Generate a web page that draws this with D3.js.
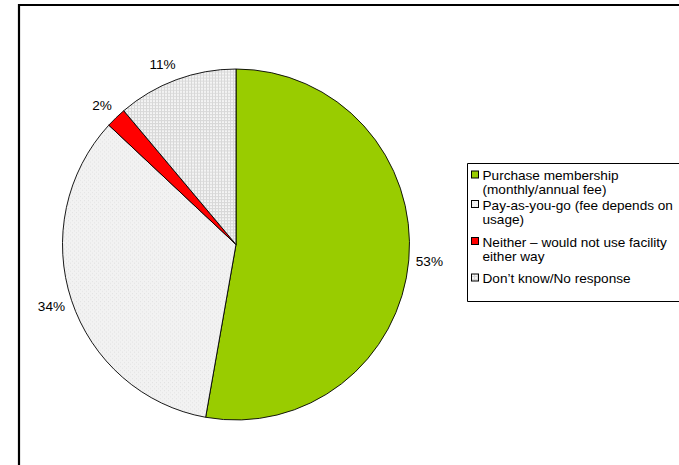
<!DOCTYPE html>
<html>
<head>
<meta charset="utf-8">
<script src="https://cdn.jsdelivr.net/npm/d3@7"></script>
<style>
  html, body { margin: 0; padding: 0; background: #fff; overflow: hidden; }
  svg { display: block; overflow: hidden; }
  text { font-family: "Liberation Sans", Arial, sans-serif; fill: #000; }
</style>
</head>
<body>
<svg id="chart" width="679" height="465"></svg>
<script>
// ---- data ----
const categories = [
  "Purchase membership (monthly/annual fee)",
  "Pay-as-you-go (fee depends on usage)",
  "Neither \u2013 would not use facility either way",
  "Don\u2019t know/No response"
];
const legendLines = [
  ["Purchase membership", "(monthly/annual fee)"],
  ["Pay-as-you-go (fee depends on", "usage)"],
  ["Neither \u2013 would not use facility", "either way"],
  ["Don\u2019t know/No response"]
];
const values = [52.8, 34.1, 1.9, 11.2];
const fills = ["#99CC00", "url(#dots)", "#FF0000", "url(#grid)"];

// ---- layout ----
const W = 679, H = 465;
const svg = d3.select("#chart");
const cx = 236, cy = 244.5, rx = 173.5, ry = 175.5;
const fs = 13.6;

const defs = svg.append("defs");
const dots = defs.append("pattern").attr("id", "dots").attr("patternUnits", "userSpaceOnUse")
  .attr("width", 4).attr("height", 4);
dots.append("rect").attr("width", 4).attr("height", 4).attr("fill", "#f2f2f2");
dots.append("rect").attr("x", 0).attr("y", 0).attr("width", 1).attr("height", 1).attr("fill", "#e2e2e2");
dots.append("rect").attr("x", 2).attr("y", 2).attr("width", 1).attr("height", 1).attr("fill", "#e2e2e2");

const grid = defs.append("pattern").attr("id", "grid").attr("patternUnits", "userSpaceOnUse")
  .attr("width", 3).attr("height", 3);
grid.append("rect").attr("width", 3).attr("height", 3).attr("fill", "#f4f4f4");
grid.append("rect").attr("x", 0).attr("y", 0).attr("width", 3).attr("height", 1).attr("fill", "#d8d8d8");
grid.append("rect").attr("x", 0).attr("y", 0).attr("width", 1).attr("height", 3).attr("fill", "#d8d8d8");

const root = svg.append("g");

// outer frame: only top and left edges fall inside the picture
root.append("path")
  .attr("d", `M${W},5 H19 V${H}`)
  .attr("fill", "none").attr("stroke", "#000").attr("stroke-width", 2.2);

const pie = d3.pie().sort(null).value(d => d);
const arcs = pie(values);
const arc = d3.arc().innerRadius(0).outerRadius(rx);

const g = root.append("g").attr("transform", `translate(${cx},${cy}) scale(1,${ry / rx})`);
g.selectAll("path").data(arcs).join("path")
  .attr("d", arc)
  .attr("fill", (d, i) => fills[i])
  .attr("stroke", "#000")
  .attr("stroke-width", 0.9)
  .attr("vector-effect", "non-scaling-stroke");

// percentage labels (box edge touches a ring just outside the pie)
const R0 = 184;
root.append("g").selectAll("text").data(arcs).join("text")
  .each(function (d) {
    const a = (d.startAngle + d.endAngle) / 2;
    const txt = Math.round(d.data) + "%";
    const w = txt.length * 0.55 * fs * 0.9;
    const h = fs * 0.95;
    const x = cx + R0 * Math.sin(a) + Math.sign(Math.sin(a)) * w / 2;
    const y = cy - R0 * (ry / rx) * Math.cos(a) - Math.cos(a) * h / 2;
    d3.select(this).attr("x", x).attr("y", y + fs * 0.36)
      .attr("text-anchor", "middle").attr("font-size", fs).text(txt);
  });

// legend (right edge runs off the picture)
const lg = root.append("g");
lg.append("rect").attr("x", 467.5).attr("y", 163.5).attr("width", W - 467.5).attr("height", 138)
  .attr("fill", "#fff").attr("stroke", "none");
lg.append("path").attr("d", `M${W},163.5 H467.5 V301.5 H${W}`)
  .attr("fill", "none").attr("stroke", "#000").attr("stroke-width", 1);
const lineH = 14;
const baselines = [180, 209.5, 246.5, 283];
const items = lg.selectAll("g.item").data(legendLines).join("g").attr("class", "item");
items.each(function (lines, i) {
  const base = baselines[i];
  const it = d3.select(this);
  it.append("rect").attr("x", 471.5).attr("y", base - 9).attr("width", 7).attr("height", 7)
    .attr("fill", fills[i]).attr("stroke", "#000").attr("stroke-width", 1);
  lines.forEach((ln, j) => {
    it.append("text").attr("x", 482.5).attr("y", base + j * lineH).attr("font-size", fs).text(ln);
  });
});
</script>
</body>
</html>
